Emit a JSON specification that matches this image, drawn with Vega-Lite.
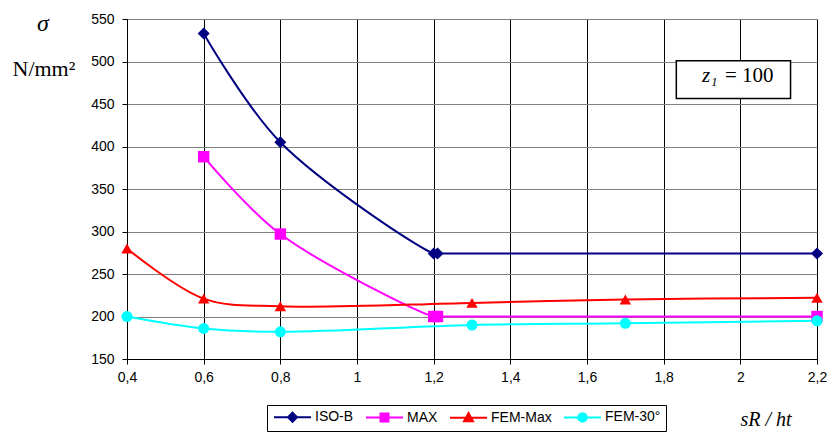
{
  "$schema": "https://vega.github.io/schema/vega-lite/v6.json",
  "width": 690,
  "height": 340,
  "autosize": "none",
  "padding": {"left": 127, "top": 19, "right": 11, "bottom": 80},
  "background": "white",
  "title": {"text": "σ", "font": "Liberation Serif", "fontStyle": "italic", "fontSize": 24, "fontWeight": "normal", "color": "black", "anchor": "start", "frame": "group", "align": "center", "baseline": "middle", "offset": 0, "dx": -84, "dy": 36},
  "datasets": {
    "curves": [
      {"series": "ISO-B", "x": 0.6, "y": 533},
      {"series": "ISO-B", "x": 0.8, "y": 405},
      {"series": "ISO-B", "x": 1.2, "y": 274},
      {"series": "ISO-B", "x": 1.21, "y": 274},
      {"series": "ISO-B", "x": 2.2, "y": 274},
      {"series": "MAX", "x": 0.6, "y": 388},
      {"series": "MAX", "x": 0.8, "y": 297},
      {"series": "MAX", "x": 1.2, "y": 200},
      {"series": "MAX", "x": 1.21, "y": 200},
      {"series": "MAX", "x": 2.2, "y": 200},
      {"series": "FEM-Max", "x": 0.4, "y": 280},
      {"series": "FEM-Max", "x": 0.6, "y": 221},
      {"series": "FEM-Max", "x": 0.8, "y": 212},
      {"series": "FEM-Max", "x": 1.3, "y": 216},
      {"series": "FEM-Max", "x": 1.7, "y": 220},
      {"series": "FEM-Max", "x": 2.2, "y": 222},
      {"series": "FEM-30°", "x": 0.4, "y": 200},
      {"series": "FEM-30°", "x": 0.6, "y": 186},
      {"series": "FEM-30°", "x": 0.8, "y": 182},
      {"series": "FEM-30°", "x": 1.3, "y": 190},
      {"series": "FEM-30°", "x": 1.7, "y": 192},
      {"series": "FEM-30°", "x": 2.2, "y": 195}
    ],
    "box": [{"x": 1.833, "x2": 2.131, "y": 456.5, "y2": 501}],
    "labels": [
      {"t": "z₁", "x": 1.90, "y": 475.5, "italic": true},
      {"t": "= 100", "x": 1.96, "y": 475.5, "italic": false}
    ]
  },
  "layer": [
    {
      "data": {"name": "curves"},
      "mark": {"type": "line", "interpolate": "catmull-rom", "strokeWidth": 2},
      "encoding": {
        "x": {"field": "x", "type": "quantitative",
              "scale": {"domain": [0.4, 2.2], "nice": false, "zero": false},
              "axis": {"values": [0.4, 0.6, 0.8, 1, 1.2, 1.4, 1.6, 1.8, 2, 2.2],
                       "labelExpr": "replace(toString(datum.value), '.', ',')",
                       "title": "sR / ht", "titleFont": "Liberation Serif", "titleFontStyle": "italic", "titleFontWeight": "normal", "titleFontSize": 20,
                       "titleAngle": 0, "titleAlign": "left", "titleBaseline": "alphabetic", "titleX": 613, "titleY": 66}},
        "y": {"field": "y", "type": "quantitative",
              "scale": {"domain": [150, 550], "nice": false, "zero": false},
              "axis": {"values": [150, 200, 250, 300, 350, 400, 450, 500, 550],
                       "title": "N/mm²", "titleFont": "Liberation Serif", "titleFontWeight": "normal", "titleFontSize": 22,
                       "titleAngle": 0, "titleAlign": "left", "titleBaseline": "alphabetic", "titleX": -115, "titleY": 56}},
        "color": {"field": "series", "type": "nominal",
                  "scale": {"domain": ["ISO-B", "MAX", "FEM-Max", "FEM-30°"], "range": ["#000080", "#FF00FF", "#FF0000", "#00FFFF"]},
                  "legend": {
                    "encode": {"symbols": {"update": {
                      "shape": {"signal": "datum.value === 'ISO-B' ? 'M-1,0H6.4M1.8,0L2.7,-0.9L3.6,0L2.7,0.9Z' : datum.value === 'MAX' ? 'M-1,0H6.4M1.9,-0.8H3.5V0.8H1.9Z' : datum.value === 'FEM-Max' ? 'M-1,0H6.4M2.7,-0.95L3.6,0.7H1.8Z' : 'M-1,0H6.4M3.55,0A0.85,0.85 0 1,1 1.85,0A0.85,0.85 0 1,1 3.55,0Z'"},
                      "fill": {"scale": "color", "field": "value"},
                      "stroke": {"scale": "color", "field": "value"},
                      "strokeWidth": {"value": 2},
                      "opacity": {"value": 1}
                    }}}
                  }}
      }
    },
    {
      "data": {"name": "curves"},
      "transform": [{"filter": "datum.series === 'ISO-B'"}],
      "mark": {"type": "point", "shape": "diamond", "filled": true, "size": 144, "opacity": 1},
      "encoding": {
        "x": {"field": "x", "type": "quantitative"},
        "y": {"field": "y", "type": "quantitative"},
        "color": {"field": "series", "type": "nominal"}
      }
    },
    {
      "data": {"name": "curves"},
      "transform": [{"filter": "datum.series === 'MAX'"}],
      "mark": {"type": "point", "shape": "square", "filled": true, "size": 130, "opacity": 1},
      "encoding": {
        "x": {"field": "x", "type": "quantitative"},
        "y": {"field": "y", "type": "quantitative"},
        "color": {"field": "series", "type": "nominal"}
      }
    },
    {
      "data": {"name": "curves"},
      "transform": [{"filter": "datum.series === 'FEM-Max'"}],
      "mark": {"type": "point", "shape": "triangle-up", "filled": true, "size": 130, "opacity": 1},
      "encoding": {
        "x": {"field": "x", "type": "quantitative"},
        "y": {"field": "y", "type": "quantitative"},
        "color": {"field": "series", "type": "nominal"}
      }
    },
    {
      "data": {"name": "curves"},
      "transform": [{"filter": "datum.series === 'FEM-30°'"}],
      "mark": {"type": "point", "shape": "circle", "filled": true, "size": 121, "opacity": 1},
      "encoding": {
        "x": {"field": "x", "type": "quantitative"},
        "y": {"field": "y", "type": "quantitative"},
        "color": {"field": "series", "type": "nominal"}
      }
    },
    {
      "data": {"name": "box"},
      "mark": {"type": "rect", "fill": "white", "stroke": "black", "strokeWidth": 1.5},
      "encoding": {
        "x": {"field": "x", "type": "quantitative"},
        "x2": {"field": "x2"},
        "y": {"field": "y", "type": "quantitative"},
        "y2": {"field": "y2"}
      }
    },
    {
      "data": {"name": "labels"},
      "transform": [{"filter": "datum.italic"}],
      "mark": {"type": "text", "font": "Liberation Serif", "fontStyle": "italic", "fontSize": 21, "align": "left", "baseline": "alphabetic", "color": "black"},
      "encoding": {
        "x": {"field": "x", "type": "quantitative"},
        "y": {"field": "y", "type": "quantitative"},
        "text": {"field": "t"}
      }
    },
    {
      "data": {"name": "labels"},
      "transform": [{"filter": "!datum.italic"}],
      "mark": {"type": "text", "font": "Liberation Serif", "fontSize": 21, "align": "left", "baseline": "alphabetic", "color": "black"},
      "encoding": {
        "x": {"field": "x", "type": "quantitative"},
        "y": {"field": "y", "type": "quantitative"},
        "text": {"field": "t"}
      }
    }
  ],
  "config": {
    "view": {"stroke": "#808080", "strokeWidth": 1},
    "axis": {
      "labelFont": "Liberation Sans", "labelFontSize": 14, "labelColor": "black",
      "domainColor": "black", "domainWidth": 1, "tickColor": "black", "tickSize": 5, "tickWidth": 1,
      "grid": true, "gridOpacity": 1, "titleColor": "black"
    },
    "axisX": {"gridColor": "#000000", "gridWidth": 1, "labelPadding": 6, "labelFlush": false},
    "axisY": {"gridColor": "#808080", "gridWidth": 1, "labelPadding": 8},
    "legend": {
      "orient": "none", "legendX": 140, "legendY": 386, "direction": "horizontal",
      "title": null, "strokeColor": "black", "fillColor": "white", "padding": 5,
      "columnPadding": 8, "labelOffset": 29, "symbolSize": 100, "symbolStrokeWidth": 2,
      "labelFont": "Liberation Sans", "labelFontSize": 14, "labelColor": "black", "labelLimit": 200
    }
  }
}
